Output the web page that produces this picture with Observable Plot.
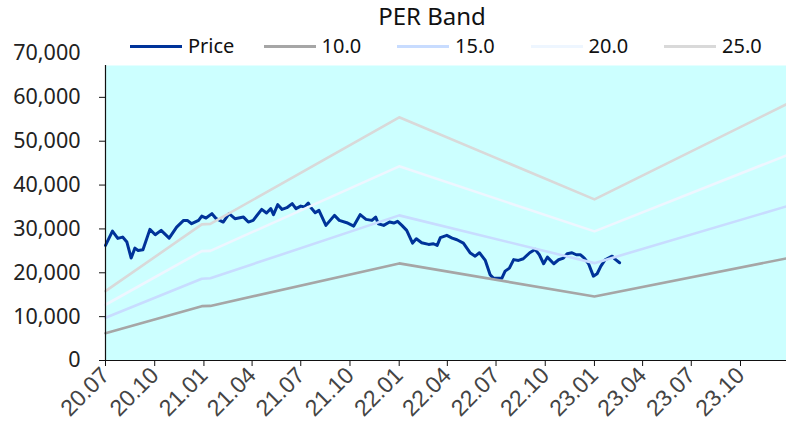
<!DOCTYPE html>
<html>
<head>
<meta charset="utf-8">
<script src="https://cdn.jsdelivr.net/npm/d3@7"></script>
<script src="https://cdn.jsdelivr.net/npm/@observablehq/plot@0.6"></script>
<style>
  html, body { margin: 0; padding: 0; background: #ffffff; }
  #wrap { position: relative; width: 786px; height: 434px; overflow: hidden; font-family: "Noto Sans", sans-serif; }
  #title { position: absolute; left: 282px; top: 0px; width: 300px; text-align: center; font-size: 24px; color: #111; line-height: 32px; }
  #legend { position: absolute; left: 130px; top: 32px; display: flex; font-size: 20px; color: #111; line-height: 28px; }
  .item { display: flex; align-items: center; width: 133.5px; }
  .swatch { display: inline-block; width: 52px; height: 3px; margin-right: 6px; }
  #chart { position: absolute; left: 0; top: 0; }
</style>
</head>
<body>
<div id="wrap">
  <div id="chart"></div>
  <div id="title"></div>
  <div id="legend"></div>
</div>
<script>
const chartTitle = "PER Band";

const priceDates = [
  "2020-07-01","2020-07-14","2020-07-24","2020-08-02","2020-08-10","2020-08-18","2020-08-25","2020-08-31",
  "2020-09-09","2020-09-22","2020-10-02","2020-10-13","2020-10-28","2020-11-11","2020-11-24","2020-12-01",
  "2020-12-09","2020-12-22","2020-12-28","2021-01-05","2021-01-16","2021-01-24","2021-02-06","2021-02-17",
  "2021-02-28","2021-03-16","2021-03-25","2021-04-03","2021-04-19","2021-04-28","2021-05-06","2021-05-11",
  "2021-05-19","2021-05-27","2021-06-05","2021-06-15","2021-06-22","2021-07-01","2021-07-08","2021-07-15",
  "2021-07-19","2021-07-28","2021-08-04","2021-08-17","2021-08-25","2021-09-02","2021-09-11","2021-09-25",
  "2021-10-08","2021-10-20","2021-10-31","2021-11-11","2021-11-18","2021-11-23","2021-12-03","2021-12-14",
  "2021-12-22","2021-12-29","2022-01-06","2022-01-15","2022-01-26","2022-02-02","2022-02-12","2022-02-25",
  "2022-03-06","2022-03-13","2022-03-19","2022-03-31","2022-04-10","2022-04-19","2022-05-01","2022-05-14",
  "2022-05-23","2022-05-31","2022-06-11","2022-06-20","2022-06-26","2022-07-06","2022-07-12","2022-07-18",
  "2022-07-26","2022-08-03","2022-08-12","2022-08-21","2022-09-02","2022-09-12","2022-09-20","2022-09-28",
  "2022-10-05","2022-10-17","2022-10-26","2022-11-04","2022-11-11","2022-11-20","2022-11-28","2022-12-06",
  "2022-12-13","2022-12-21","2022-12-30","2023-01-06","2023-01-13","2023-01-21","2023-02-03","2023-02-09",
  "2023-02-17"
];
const priceValues = [
  26240,29500,27840,28140,27000,23350,25630,25100,
  25260,29900,28680,29670,27900,30420,31950,31950,
  31190,31950,32930,32480,33480,32330,31570,33480,
  32330,32700,31570,31950,34460,33620,34620,33250,
  35530,34460,34840,35760,34620,35210,34990,35900,
  34990,33700,34230,30810,31950,33090,31950,31420,
  30650,33250,32180,31950,32700,31190,30810,31570,
  31340,31720,30810,29670,26770,27760,26850,26470,
  26620,26240,28000,28530,27910,27530,26770,24490,
  23790,24570,22820,19560,18780,18780,18780,20380,
  21060,23000,22820,23200,24570,25330,24110,22060,
  23570,22060,22970,23350,24340,24570,24110,24110,
  23350,22060,19240,19780,21520,22970,23790,23050,
  22290
];

const bandDates = ["2020-07-01","2020-12-28","2021-01-13","2022-01-01","2023-01-01","2023-12-26"];
const bandNames = ["10.0","15.0","20.0","25.0"];
const band10 = [6230, 12390, 12450, 22140, 14600, 23280];
const band15 = [9740, 18650, 18750, 33090, 22200, 35150];
const band20 = [12710, 24940, 25000, 44270, 29440, 46780];
const band25 = [15810, 31030, 31150, 55450, 36750, 58430];

const xTicks = ["2020-07-01","2020-10-01","2021-01-01","2021-04-01","2021-07-01","2021-10-01","2022-01-01",
  "2022-04-01","2022-07-01","2022-10-01","2023-01-01","2023-04-01","2023-07-01","2023-10-01"];
const yTicks = [0,10000,20000,30000,40000,50000,60000,70000];
const xDomain = ["2020-07-01","2023-12-26"];

const seriesNames = ["Price", ...bandNames];
const seriesColors = ["#003399","#a6a6a6","#c8dcff","#eef6ff","#d9d9d9"];

// build tables
const price = priceDates.map((d, i) => ({date: new Date(d), value: priceValues[i]}));
const bandSeries = [band10, band15, band20, band25];
const bands = [];
bandSeries.forEach((vals, k) => {
  bandDates.forEach((d, i) => bands.push({date: new Date(d), value: vals[i], per: bandNames[k]}));
});

const fmt = d3.utcFormat("%y.%m");

const plot = Plot.plot({
  width: 786,
  height: 434,
  marginTop: 65,
  marginLeft: 105,
  marginRight: 0,
  marginBottom: 74,
  style: {background: "transparent", fontFamily: "Noto Sans, sans-serif", overflow: "visible"},
  x: {type: "utc", domain: xDomain.map(d => new Date(d))},
  y: {domain: [0, 70000], range: [360, 53]},
  color: {domain: seriesNames, range: seriesColors},
  marks: [
    Plot.frame({fill: "#ccffff", stroke: null}),
    Plot.line(price, {x: "date", y: "value", stroke: seriesColors[0], strokeWidth: 3, strokeLinejoin: "round"}),
    Plot.line(bands, {x: "date", y: "value", z: "per", stroke: "per", strokeWidth: 2.6}),
    Plot.frame({anchor: "left", stroke: "#111", strokeWidth: 1.2}),
    Plot.frame({anchor: "bottom", stroke: "#111", strokeWidth: 1.2}),
    Plot.axisY({ticks: yTicks.filter(v => v < 70000), tickSize: 6, tickFormat: () => "", label: null, stroke: "#111"}),
    Plot.axisY({ticks: yTicks, tickSize: 0, tickPadding: 25, tickFormat: d3.format(","), label: null,
                fontSize: 21.5, fill: "#222"}),
    Plot.axisX({ticks: xTicks.map(d => new Date(d)), tickFormat: fmt, tickRotate: -45, tickSize: 6,
                tickPadding: 5, fontSize: 23, fontFamily: "Liberation Sans, Arial, sans-serif",
                label: null, fill: "#444", stroke: "#111"})
  ]
});
document.getElementById("chart").appendChild(plot);

document.getElementById("title").textContent = chartTitle;
const legend = document.getElementById("legend");
seriesNames.forEach((name, i) => {
  const item = document.createElement("div");
  item.className = "item";
  const sw = document.createElement("span");
  sw.className = "swatch";
  sw.style.background = seriesColors[i];
  const label = document.createElement("span");
  label.textContent = name;
  item.appendChild(sw);
  item.appendChild(label);
  legend.appendChild(item);
});
</script>
</body>
</html>
